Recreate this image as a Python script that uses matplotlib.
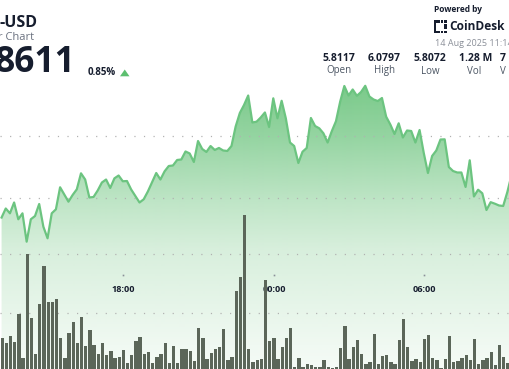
import numpy as np
import matplotlib
matplotlib.use("Agg")
import matplotlib.pyplot as plt
import matplotlib.transforms as mtransforms
from matplotlib.patches import Polygon, Rectangle

plt.rcParams['font.family'] = ['Open Sans', 'DejaVu Sans']

W, H = 510, 369  # output size in pixels

# close price, one point per 10 minutes
price = [
    5.8693, 5.8837, 5.8760, 5.8933, 5.8665, 5.8760, 5.8307, 5.8665, 5.8717, 5.8909,
    5.8546, 5.8361, 5.8760, 5.8824, 5.9176, 5.9061, 5.8946, 5.9053, 5.9144, 5.9399,
    5.9300, 5.9013, 5.9021, 5.9125, 5.9252, 5.9300, 5.9165, 5.9319, 5.9364, 5.9272,
    5.9276, 5.9141, 5.9037, 5.8933, 5.8984, 5.9109, 5.9256, 5.9404, 5.9300, 5.9431,
    5.9516, 5.9524, 5.9612, 5.9620, 5.9748, 5.9716, 5.9580, 5.9915, 5.9788, 5.9740,
    5.9835, 5.9772, 5.9804, 5.9764, 5.9756, 5.9835, 6.0147, 6.0363, 6.0490, 6.0642,
    6.0211, 6.0224, 6.0291, 6.0371, 6.0139, 6.0597, 6.0278, 6.0558, 6.0278, 5.9891,
    5.9835, 5.9564, 5.9744, 5.9804, 6.0283, 6.0155, 6.0118, 6.0038, 5.9891, 6.0072,
    6.0232, 6.0543, 6.0794, 6.0642, 6.0738, 6.0637, 6.0698, 6.0797, 6.0626, 6.0578,
    6.0554, 6.0602, 6.0304, 6.0179, 6.0027, 6.0198, 5.9971, 6.0083, 6.0075, 5.9891,
    6.0091, 5.9724, 5.9404, 5.9676, 5.9764, 5.9939, 5.9942, 5.9500, 5.9436, 5.9412,
    5.9412, 5.9181, 5.9607, 5.9029, 5.9137, 5.9080, 5.8813, 5.8938, 5.8914, 5.8885,
    5.8877, 5.9101, 5.9372,
]

# volume per 10 minute bar (thousands)
volume = [
    17.3, 14.7, 18.7, 15.2, 29.5, 7.4, 60.3, 27.5, 9.2, 34.7,
    54.1, 35.9, 35.5, 37.2, 17.6, 7.1, 19.8, 25.4, 14.7, 28.3,
    13.5, 21.5, 13.9, 9.2, 15.1, 8.8, 10.7, 7.1, 7.9, 11.2,
    4.6, 8.8, 15.8, 17.7, 9.2, 10.3, 4.9, 7.9, 9.3, 14.9,
    4.6, 13.6, 4.6, 12.0, 11.7, 10.8, 5.5, 22.7, 17.3, 6.7,
    9.7, 11.7, 13.0, 21.9, 6.2, 7.9, 41.4, 48.3, 80.1, 12.0,
    5.1, 6.3, 6.9, 46.9, 15.9, 17.6, 6.7, 13.0, 17.3, 22.4,
    2.7, 7.2, 2.5, 4.0, 3.5, 2.9, 2.5, 6.0, 2.5, 2.4,
    2.5, 12.5, 23.5, 7.0, 13.0, 16.2, 9.2, 4.0, 5.1, 19.4,
    4.1, 8.4, 8.9, 5.1, 4.0, 16.4, 27.3, 13.0, 5.7, 6.8,
    5.1, 16.8, 19.2, 7.1, 6.0, 2.2, 6.7, 18.7, 5.0, 5.7,
    7.1, 8.8, 6.0, 16.8, 4.1, 6.0, 7.5, 10.2, 3.5, 14.1,
    7.9, 4.7,
]

tick_idx = [29, 65, 101]
tick_labels = ["18:00", "00:00", "06:00"]
price_grid = [5.9, 6.0]
vol_grid = [30, 60]

stat_values = ["5.8117", "6.0797", "5.8072", "1.28 M"]
stat_names = ["Open", "High", "Low", "Vol"]

DARK = '#161d2e'
GRAY = '#6b7280'
LINE = '#6cc480'
BAR = '#5b6659'

fig = plt.figure(figsize=(W / 100, H / 100), dpi=100)
ax = fig.add_axes([0, 0, 1, 1])
ax.set_facecolor('white')

xmin, xmax = -0.526, 121.48
pmin, pmax = 5.62731, 6.21677

xs = np.arange(len(price)) - 0.15

# gradient area under the price line
verts = [(xs[0], pmin - 1)] + list(zip(xs, price)) + [(xs[-1], pmin - 1)]
clip = Polygon(verts, closed=True, facecolor='none', edgecolor='none',
               transform=ax.transData)
ax.add_patch(clip)
py = np.arange(H)
alpha = np.interp(py, [85, 135, 200, 250, 340, 369],
                  [0.82, 0.66, 0.40, 0.24, 0.10, 0.06])
grad = np.zeros((H, 1, 4))
grad[:, 0, :3] = np.array([93, 190, 112]) / 255
grad[:, 0, 3] = alpha
img = ax.imshow(grad, extent=[xmin, xmax, pmin, pmax], origin='upper',
                aspect='auto', zorder=1, interpolation='bilinear')
img.set_clip_path(clip)

dots = (0, (0.95, 6.7))
for g in price_grid:
    ax.axhline(g, color='#b0b0b0', lw=0.9, linestyle=dots, zorder=2)

ax.plot(xs, price, color=LINE, lw=1.6, zorder=3, solid_joinstyle='round')

ax.set_xlim(xmin, xmax)
ax.set_ylim(pmin, pmax)
ax.axis('off')

# volume bars on their own scale
axv = ax.twinx()
axv.set_ylim(1.678, 189.3)
for g in vol_grid:
    axv.axhline(g, color='#b0b0b0', lw=0.9, linestyle=dots, zorder=1)
axv.bar(np.arange(len(volume)), volume, width=0.8, color=BAR, zorder=2)
axv.set_xlim(xmin, xmax)
axv.axis('off')

# time labels
trans = mtransforms.blended_transform_factory(ax.transData, ax.transAxes)
for i, lab in zip(tick_idx, tick_labels):
    ax.plot([i], [1 - 274.7 / H], marker='s', ms=1.2, color='#8a8f98',
            mew=0, transform=trans, zorder=4)
    ax.text(i, 1 - 289.3 / H, lab, transform=trans, ha='center', va='center',
            fontsize=6.6, fontweight='bold', color=DARK, zorder=4)


def put(x, y, s, size, weight='normal', color=DARK, ha='left'):
    fig.text(x / W, 1 - y / H, s, fontsize=size, fontweight=weight,
             color=color, ha=ha, va='center')


# header left
put(-1, 22.8, "-USD", 11.5, 'bold')
put(-2.5, 37, "r Chart", 8, color=GRAY)
put(76, 63.5, "8611", 25.5, 'bold', ha='right')
put(88, 72.5, "0.85%", 7, 'bold')
tri = Polygon([(120 / W, 1 - 76.3 / H), (129.5 / W, 1 - 76.3 / H),
               (124.75 / W, 1 - 69.5 / H)], closed=True,
              transform=fig.transFigure, facecolor='#5cbf6f', edgecolor='none')
fig.patches.append(tri)

# header right
put(434, 10, "Powered by", 6, 'bold')
for (x0, y0, w, h) in [(434, 20.5, 2.2, 12.5), (436, 20.5, 4, 2), (436, 31, 4, 2),
                       (441.5, 20.5, 2, 2), (441.5, 31, 2, 2), (444.5, 20.5, 2.2, 2),
                       (444.5, 31, 2.2, 2), (444.5, 24.5, 2.2, 4.5)]:
    fig.patches.append(Rectangle((x0 / W, 1 - (y0 + h) / H), w / W, h / H,
                                 transform=fig.transFigure, facecolor=DARK,
                                 edgecolor='none'))
put(449.5, 26.8, "CoinDesk", 8.6, 'bold')
put(435, 43.5, "14 Aug 2025 11:14", 6.5, color='#8a8f98')

for x, v in zip([338.8, 384.2, 430, 475.5], stat_values):
    put(x, 58.8, v, 7.5, 'bold', ha='center')
for x, n in zip([339, 385, 430, 474], stat_names):
    put(x, 71, n, 7, color='#4b5563', ha='center')
put(499.5, 58.8, "7", 7.5, 'bold')
put(500, 71, "V", 7, color='#4b5563')

fig.savefig("out.png", dpi=100, facecolor='white')
